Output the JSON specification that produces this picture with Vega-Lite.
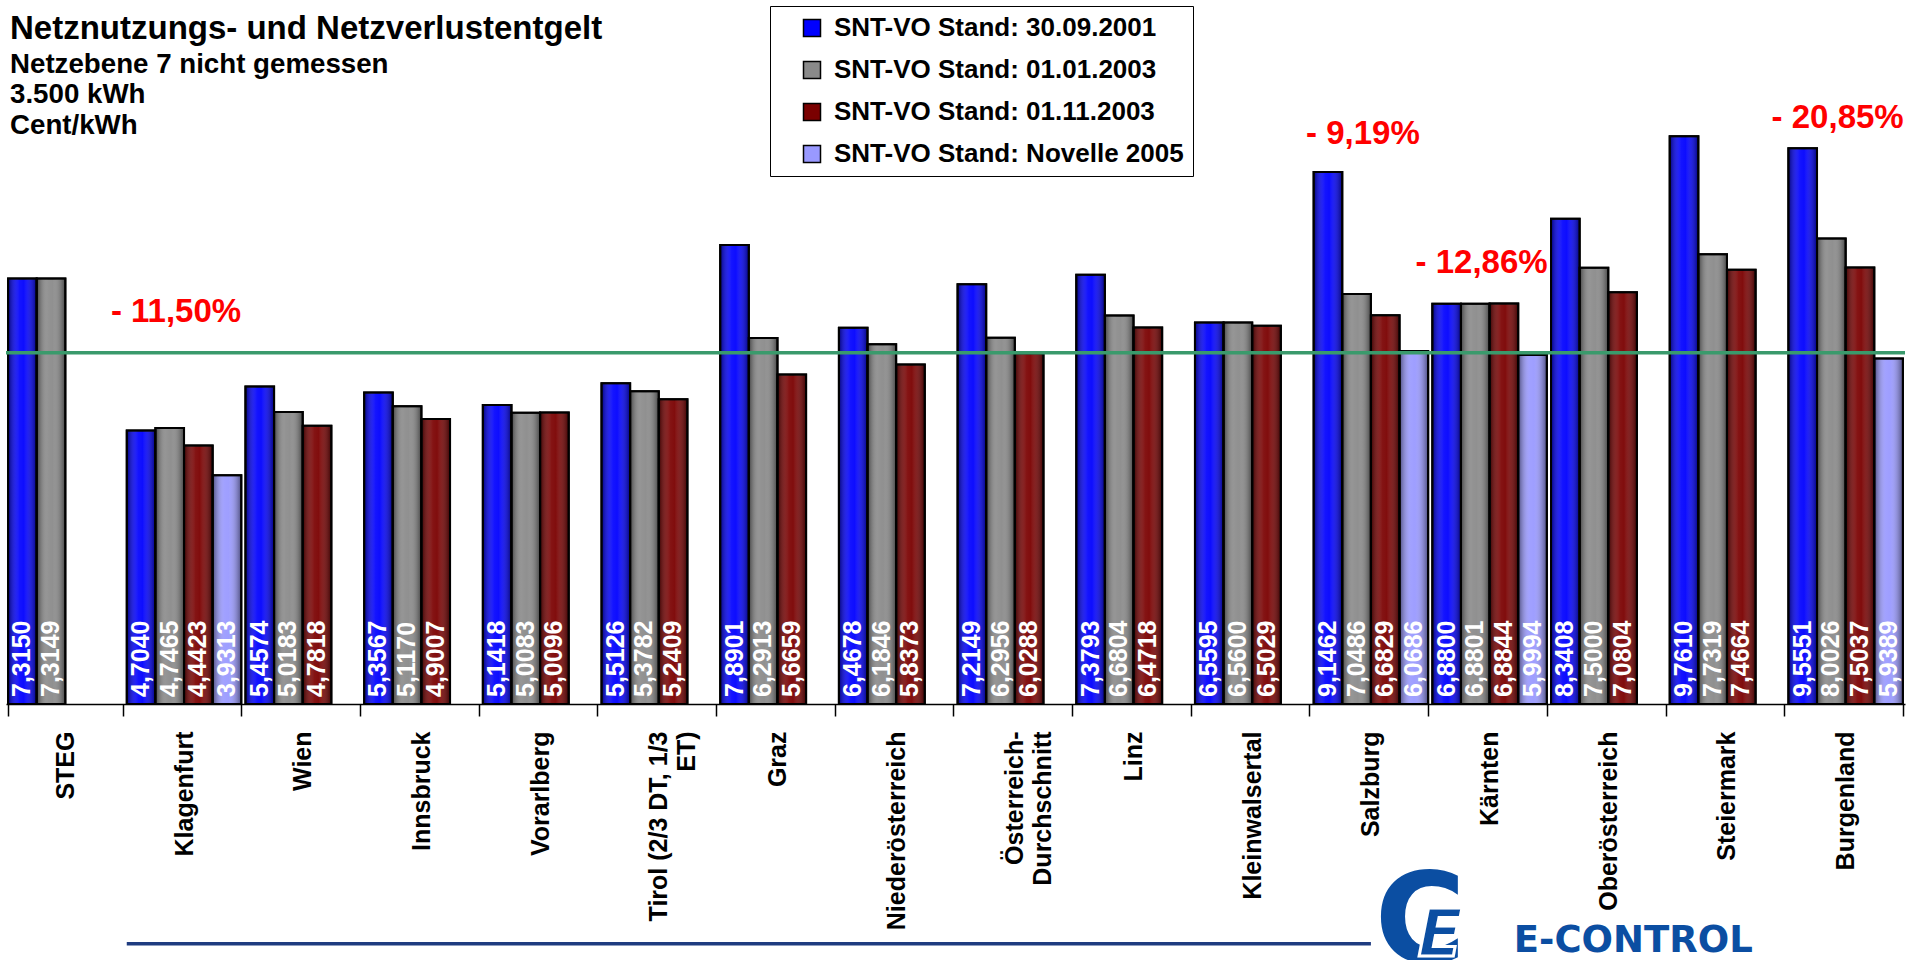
{
  "$schema": "https://vega.github.io/schema/vega-lite/v6.json",
  "width": 1899,
  "height": 698,
  "autosize": {"type": "none"},
  "padding": {"left": 6, "top": 6, "right": 6, "bottom": 256},
  "background": "white",
  "title": {
    "text": "Netznutzungs- und Netzverlustentgelt",
    "subtitle": ["Netzebene 7 nicht gemessen", "3.500 kWh", "Cent/kWh"],
    "anchor": "start",
    "frame": "group",
    "orient": "top",
    "offset": -134,
    "dx": 4,
    "font": "Liberation Sans",
    "fontSize": 33,
    "fontWeight": "bold",
    "color": "black",
    "subtitleFont": "Liberation Sans",
    "subtitleFontSize": 27.7,
    "subtitleFontWeight": "bold",
    "subtitleColor": "black",
    "subtitleLineHeight": 30.5,
    "subtitlePadding": 5
  },
  "datasets": {
    "werte": [
      {"region": "STEG", "stand": "SNT-VO Stand: 30.09.2001", "value": 7.3150},
      {"region": "STEG", "stand": "SNT-VO Stand: 01.01.2003", "value": 7.3149},
      {"region": "Klagenfurt", "stand": "SNT-VO Stand: 30.09.2001", "value": 4.7040},
      {"region": "Klagenfurt", "stand": "SNT-VO Stand: 01.01.2003", "value": 4.7465},
      {"region": "Klagenfurt", "stand": "SNT-VO Stand: 01.11.2003", "value": 4.4423},
      {"region": "Klagenfurt", "stand": "SNT-VO Stand: Novelle 2005", "value": 3.9313},
      {"region": "Wien", "stand": "SNT-VO Stand: 30.09.2001", "value": 5.4574},
      {"region": "Wien", "stand": "SNT-VO Stand: 01.01.2003", "value": 5.0183},
      {"region": "Wien", "stand": "SNT-VO Stand: 01.11.2003", "value": 4.7818},
      {"region": "Innsbruck", "stand": "SNT-VO Stand: 30.09.2001", "value": 5.3567},
      {"region": "Innsbruck", "stand": "SNT-VO Stand: 01.01.2003", "value": 5.1170},
      {"region": "Innsbruck", "stand": "SNT-VO Stand: 01.11.2003", "value": 4.9007},
      {"region": "Vorarlberg", "stand": "SNT-VO Stand: 30.09.2001", "value": 5.1418},
      {"region": "Vorarlberg", "stand": "SNT-VO Stand: 01.01.2003", "value": 5.0083},
      {"region": "Vorarlberg", "stand": "SNT-VO Stand: 01.11.2003", "value": 5.0096},
      {"region": "Tirol (2/3 DT, 1/3 ET)", "stand": "SNT-VO Stand: 30.09.2001", "value": 5.5126},
      {"region": "Tirol (2/3 DT, 1/3 ET)", "stand": "SNT-VO Stand: 01.01.2003", "value": 5.3782},
      {"region": "Tirol (2/3 DT, 1/3 ET)", "stand": "SNT-VO Stand: 01.11.2003", "value": 5.2409},
      {"region": "Graz", "stand": "SNT-VO Stand: 30.09.2001", "value": 7.8901},
      {"region": "Graz", "stand": "SNT-VO Stand: 01.01.2003", "value": 6.2913},
      {"region": "Graz", "stand": "SNT-VO Stand: 01.11.2003", "value": 5.6659},
      {"region": "Niederösterreich", "stand": "SNT-VO Stand: 30.09.2001", "value": 6.4678},
      {"region": "Niederösterreich", "stand": "SNT-VO Stand: 01.01.2003", "value": 6.1846},
      {"region": "Niederösterreich", "stand": "SNT-VO Stand: 01.11.2003", "value": 5.8373},
      {"region": "Österreich-Durchschnitt", "stand": "SNT-VO Stand: 30.09.2001", "value": 7.2149},
      {"region": "Österreich-Durchschnitt", "stand": "SNT-VO Stand: 01.01.2003", "value": 6.2956},
      {"region": "Österreich-Durchschnitt", "stand": "SNT-VO Stand: 01.11.2003", "value": 6.0288},
      {"region": "Linz", "stand": "SNT-VO Stand: 30.09.2001", "value": 7.3793},
      {"region": "Linz", "stand": "SNT-VO Stand: 01.01.2003", "value": 6.6804},
      {"region": "Linz", "stand": "SNT-VO Stand: 01.11.2003", "value": 6.4718},
      {"region": "Kleinwalsertal", "stand": "SNT-VO Stand: 30.09.2001", "value": 6.5595},
      {"region": "Kleinwalsertal", "stand": "SNT-VO Stand: 01.01.2003", "value": 6.5600},
      {"region": "Kleinwalsertal", "stand": "SNT-VO Stand: 01.11.2003", "value": 6.5029},
      {"region": "Salzburg", "stand": "SNT-VO Stand: 30.09.2001", "value": 9.1462},
      {"region": "Salzburg", "stand": "SNT-VO Stand: 01.01.2003", "value": 7.0486},
      {"region": "Salzburg", "stand": "SNT-VO Stand: 01.11.2003", "value": 6.6829},
      {"region": "Salzburg", "stand": "SNT-VO Stand: Novelle 2005", "value": 6.0686},
      {"region": "Kärnten", "stand": "SNT-VO Stand: 30.09.2001", "value": 6.8800},
      {"region": "Kärnten", "stand": "SNT-VO Stand: 01.01.2003", "value": 6.8801},
      {"region": "Kärnten", "stand": "SNT-VO Stand: 01.11.2003", "value": 6.8844},
      {"region": "Kärnten", "stand": "SNT-VO Stand: Novelle 2005", "value": 5.9994},
      {"region": "Oberösterreich", "stand": "SNT-VO Stand: 30.09.2001", "value": 8.3408},
      {"region": "Oberösterreich", "stand": "SNT-VO Stand: 01.01.2003", "value": 7.5000},
      {"region": "Oberösterreich", "stand": "SNT-VO Stand: 01.11.2003", "value": 7.0804},
      {"region": "Steiermark", "stand": "SNT-VO Stand: 30.09.2001", "value": 9.7610},
      {"region": "Steiermark", "stand": "SNT-VO Stand: 01.01.2003", "value": 7.7319},
      {"region": "Steiermark", "stand": "SNT-VO Stand: 01.11.2003", "value": 7.4664},
      {"region": "Burgenland", "stand": "SNT-VO Stand: 30.09.2001", "value": 9.5551},
      {"region": "Burgenland", "stand": "SNT-VO Stand: 01.01.2003", "value": 8.0026},
      {"region": "Burgenland", "stand": "SNT-VO Stand: 01.11.2003", "value": 7.5037},
      {"region": "Burgenland", "stand": "SNT-VO Stand: Novelle 2005", "value": 5.9389}
    ],
    "hinweise": [
      {"region": "Klagenfurt", "label": "- 11,50%", "level": 6.74},
      {"region": "Salzburg", "label": "- 9,19%", "level": 9.80},
      {"region": "Kärnten", "label": "- 12,86%", "level": 7.58},
      {"region": "Burgenland", "label": "- 20,85%", "level": 10.07}
    ]
  },
  "layer": [
    {
      "data": {"name": "werte"},
      "mark": {"type": "bar", "stroke": "black", "strokeWidth": 2},
      "encoding": {
        "x": {
          "field": "region", "type": "nominal",
          "scale": {"domain": ["STEG", "Klagenfurt", "Wien", "Innsbruck", "Vorarlberg", "Tirol (2/3 DT, 1/3 ET)", "Graz", "Niederösterreich", "Österreich-Durchschnitt", "Linz", "Kleinwalsertal", "Salzburg", "Kärnten", "Oberösterreich", "Steiermark", "Burgenland"], "paddingInner": 0.035, "paddingOuter": 0.0175},
          "axis": {
            "title": null,
            "labelAngle": -90,
            "labelFont": "Liberation Sans",
            "labelFontSize": 25,
            "labelFontWeight": "bold",
            "labelColor": "black",
            "labelPadding": 15,
            "labelLimit": 400,
            "labelOverlap": false,
            "labelBound": false,
            "labelLineHeight": 28,
            "labelExpr": "datum.value == 'Tirol (2/3 DT, 1/3 ET)' ? ['Tirol (2/3 DT, 1/3', 'ET)'] : datum.value == 'Österreich-Durchschnitt' ? ['Österreich-', 'Durchschnitt'] : datum.value",
            "tickBand": "extent",
            "tickSize": 12,
            "tickColor": "black",
            "tickWidth": 1.5,
            "domainColor": "black",
            "domainWidth": 1.5,
            "grid": false
          }
        },
        "xOffset": {
          "field": "stand", "type": "nominal",
          "scale": {"domain": ["SNT-VO Stand: 30.09.2001", "SNT-VO Stand: 01.01.2003", "SNT-VO Stand: 01.11.2003", "SNT-VO Stand: Novelle 2005"], "paddingInner": 0, "paddingOuter": 0}
        },
        "y": {"field": "value", "type": "quantitative", "scale": {"domain": [0, 12]}, "axis": null},
        "color": {
          "field": "stand", "type": "nominal",
          "scale": {"domain": ["SNT-VO Stand: 30.09.2001", "SNT-VO Stand: 01.01.2003", "SNT-VO Stand: 01.11.2003", "SNT-VO Stand: Novelle 2005"], "range": ["#0000FF", "#8A8A8A", "#7A0000", "#9999FF"]},
          "legend": {
            "orient": "none",
            "legendX": 764,
            "legendY": 0,
            "title": null,
            "direction": "vertical",
            "strokeColor": "black",
            "fillColor": "white",
            "padding": 9,
            "symbolType": "square",
            "symbolSize": 289,
            "symbolStrokeColor": "black",
            "symbolStrokeWidth": 1.5,
            "symbolOpacity": 1,
            "symbolOffset": 20,
            "labelOffset": 9,
            "labelFont": "Liberation Sans",
            "labelFontSize": 26,
            "labelFontWeight": "bold",
            "labelColor": "black",
            "labelLimit": 500,
            "rowPadding": 16
          }
        }
      }
    },
    {
      "data": {"name": "werte"},
      "mark": {
        "type": "bar",
        "stroke": "black",
        "strokeWidth": 2,
        "color": {
          "gradient": "linear", "x1": 0, "x2": 1, "y1": 0, "y2": 0,
          "stops": [
            {"offset": 0, "color": "rgba(0,0,0,0.5)"},
            {"offset": 0.4, "color": "rgba(255,255,255,0.08)"},
            {"offset": 0.55, "color": "rgba(255,255,255,0.05)"},
            {"offset": 1, "color": "rgba(0,0,0,0.5)"}
          ]
        }
      },
      "encoding": {
        "x": {"field": "region", "type": "nominal", "scale": {"domain": ["STEG", "Klagenfurt", "Wien", "Innsbruck", "Vorarlberg", "Tirol (2/3 DT, 1/3 ET)", "Graz", "Niederösterreich", "Österreich-Durchschnitt", "Linz", "Kleinwalsertal", "Salzburg", "Kärnten", "Oberösterreich", "Steiermark", "Burgenland"]}},
        "xOffset": {"field": "stand", "type": "nominal", "scale": {"domain": ["SNT-VO Stand: 30.09.2001", "SNT-VO Stand: 01.01.2003", "SNT-VO Stand: 01.11.2003", "SNT-VO Stand: Novelle 2005"]}},
        "y": {"field": "value", "type": "quantitative", "scale": {"domain": [0, 12]}}
      }
    },
    {
      "data": {"name": "werte"},
      "mark": {"type": "text", "angle": 270, "align": "left", "baseline": "middle", "dx": 7, "color": "white", "font": "Liberation Sans", "fontSize": 25, "fontWeight": "bold"},
      "encoding": {
        "x": {"field": "region", "type": "nominal", "scale": {"domain": ["STEG", "Klagenfurt", "Wien", "Innsbruck", "Vorarlberg", "Tirol (2/3 DT, 1/3 ET)", "Graz", "Niederösterreich", "Österreich-Durchschnitt", "Linz", "Kleinwalsertal", "Salzburg", "Kärnten", "Oberösterreich", "Steiermark", "Burgenland"]}},
        "xOffset": {"field": "stand", "type": "nominal", "scale": {"domain": ["SNT-VO Stand: 30.09.2001", "SNT-VO Stand: 01.01.2003", "SNT-VO Stand: 01.11.2003", "SNT-VO Stand: Novelle 2005"]}},
        "y": {"datum": 0, "scale": {"domain": [0, 12]}},
        "text": {"field": "value", "type": "quantitative", "format": ".4f"}
      }
    },
    {
      "data": {"values": [{"linie": "Referenz"}]},
      "mark": {"type": "rule", "color": "#3A9A6C", "strokeWidth": 3.5},
      "encoding": {"y": {"datum": 6.04, "scale": {"domain": [0, 12]}}}
    },
    {
      "data": {"name": "hinweise"},
      "mark": {"type": "text", "color": "#FF0000", "font": "Liberation Sans", "fontSize": 33, "fontWeight": "bold", "align": "center", "baseline": "middle", "dx": -8},
      "encoding": {
        "x": {"field": "region", "type": "nominal", "scale": {"domain": ["STEG", "Klagenfurt", "Wien", "Innsbruck", "Vorarlberg", "Tirol (2/3 DT, 1/3 ET)", "Graz", "Niederösterreich", "Österreich-Durchschnitt", "Linz", "Kleinwalsertal", "Salzburg", "Kärnten", "Oberösterreich", "Steiermark", "Burgenland"]}},
        "y": {"field": "level", "type": "quantitative", "scale": {"domain": [0, 12]}},
        "text": {"field": "label", "type": "nominal"}
      }
    },
    {
      "data": {"values": [{"element": "Fußlinie"}]},
      "mark": {"type": "rule", "color": "#1F3C80", "strokeWidth": 3.5},
      "encoding": {
        "x": {"datum": "Klagenfurt", "bandPosition": 0},
        "x2": {"datum": "Salzburg"},
        "y": {"datum": -4.12, "scale": {"domain": [0, 12]}}
      }
    },
    {
      "data": {"values": [{"logo": "E-CONTROL"}]},
      "mark": {"type": "text", "color": "#0B4EA2", "font": "DejaVu Sans", "fontSize": 37, "fontWeight": "bold", "align": "center", "baseline": "middle", "dx": 25},
      "encoding": {
        "x": {"datum": "Oberösterreich"},
        "y": {"datum": -4.08, "scale": {"domain": [0, 12]}},
        "text": {"field": "logo", "type": "nominal"}
      }
    },
    {
      "data": {"values": [{"zeichen": "C"}]},
      "mark": {"type": "text", "color": "#0B4EA2", "font": "DejaVu Sans", "fontSize": 124, "fontWeight": "bold", "align": "center", "baseline": "middle", "dx": -12},
      "encoding": {
        "x": {"datum": "Kärnten", "bandPosition": 0},
        "y": {"datum": -3.80, "scale": {"domain": [0, 12]}},
        "text": {"field": "zeichen", "type": "nominal"}
      }
    },
    {
      "data": {"values": [{"zeichen": "E"}]},
      "mark": {"type": "text", "color": "#0B4EA2", "stroke": "white", "strokeWidth": 3, "font": "DejaVu Sans", "fontSize": 66, "fontWeight": "bold", "fontStyle": "italic", "align": "center", "baseline": "middle", "dx": 8},
      "encoding": {
        "x": {"datum": "Kärnten", "bandPosition": 0},
        "y": {"datum": -3.98, "scale": {"domain": [0, 12]}},
        "text": {"field": "zeichen", "type": "nominal"}
      }
    }
  ],
  "config": {
    "view": {"stroke": null},
    "locale": {"number": {"decimal": ",", "thousands": ".", "grouping": [3], "currency": ["", " €"]}}
  }
}
